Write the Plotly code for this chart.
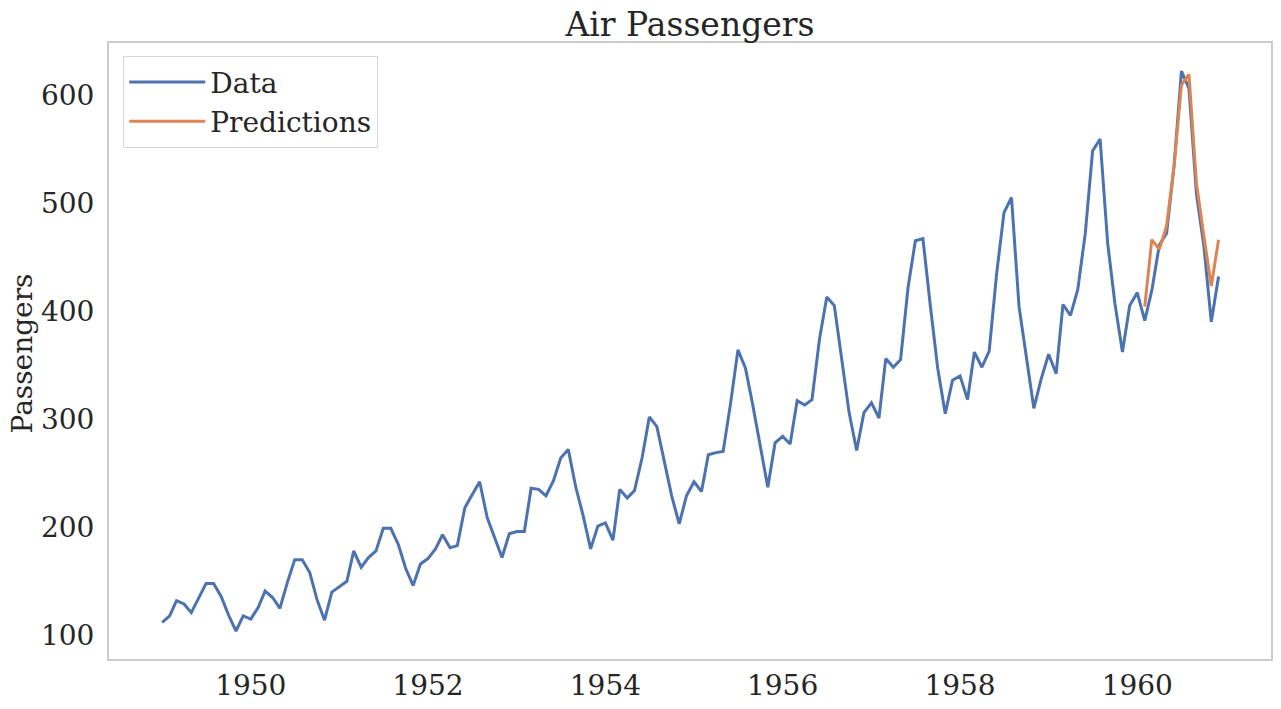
import plotly.graph_objects as go
import pandas as pd

months = pd.date_range("1949-01-01", "1960-12-01", freq="MS").strftime("%Y-%m-%d").tolist()
passengers = [
    112, 118, 132, 129, 121, 135, 148, 148, 136, 119, 104, 118,
    115, 126, 141, 135, 125, 149, 170, 170, 158, 133, 114, 140,
    145, 150, 178, 163, 172, 178, 199, 199, 184, 162, 146, 166,
    171, 180, 193, 181, 183, 218, 230, 242, 209, 191, 172, 194,
    196, 196, 236, 235, 229, 243, 264, 272, 237, 211, 180, 201,
    204, 188, 235, 227, 234, 264, 302, 293, 259, 229, 203, 229,
    242, 233, 267, 269, 270, 315, 364, 347, 312, 274, 237, 278,
    284, 277, 317, 313, 318, 374, 413, 405, 355, 306, 271, 306,
    315, 301, 356, 348, 355, 422, 465, 467, 404, 347, 305, 336,
    340, 318, 362, 348, 363, 435, 491, 505, 404, 359, 310, 337,
    360, 342, 406, 396, 420, 472, 548, 559, 463, 407, 362, 405,
    417, 391, 419, 461, 472, 535, 622, 606, 508, 461, 390, 432,
]
pred_months = pd.date_range("1960-02-01", "1960-12-01", freq="MS").strftime("%Y-%m-%d").tolist()
predictions = [404, 466, 457, 479, 535, 609, 619, 518, 470, 423, 466]

tick_vals = ["1950-01-01", "1952-01-01", "1954-01-01", "1956-01-01", "1958-01-01", "1960-01-01"]
tick_text = ["1950", "1952", "1954", "1956", "1958", "1960"]
y_ticks = [100, 200, 300, 400, 500, 600]

FONT = "DejaVu Serif"
TXT = "#262626"
fig = go.Figure()
fig.add_trace(go.Scatter(x=months, y=passengers, mode="lines", name="Data",
                         line=dict(color="#4C72B0", width=3)))
fig.add_trace(go.Scatter(x=pred_months, y=predictions, mode="lines", name="Predictions",
                         line=dict(color="#DD8452", width=3)))

fig.update_layout(
    width=1281, height=709,
    paper_bgcolor="white", plot_bgcolor="white",
    margin=dict(l=109, r=10, t=43, b=50),
    font=dict(family=FONT, color=TXT, size=28),
    title=dict(text="Air Passengers", x=0.5, xref="paper", xanchor="center",
               y=0.966, yanchor="middle", font=dict(size=33, family=FONT, color=TXT)),
    legend=dict(x=0.012, y=0.979, xanchor="left", yanchor="top",
                bgcolor="white", bordercolor="#d6d6d6", borderwidth=1.3,
                font=dict(size=28, family=FONT, color=TXT),
                tracegroupgap=2, itemwidth=76),
    xaxis=dict(type="date", range=["1948-05-27", "1961-07-05"], automargin=False,
               tickvals=tick_vals, ticktext=tick_text, showgrid=False, zeroline=False,
               showline=True, mirror=True, linecolor="#cccccc", linewidth=2,
               ticks="", ticklabelstandoff=0,
               tickfont=dict(size=28, family=FONT, color=TXT)),
    yaxis=dict(range=[78.1, 647.9], tickvals=y_ticks, showgrid=False, zeroline=False,
               automargin=False,
               showline=True, mirror=True, linecolor="#cccccc", linewidth=2,
               ticks="", ticklabelstandoff=7,
               tickfont=dict(size=28, family=FONT, color=TXT)),
    annotations=[dict(text="Passengers", xref="paper", yref="paper", x=-0.0749, y=0.496,
                      xanchor="center", yanchor="middle", textangle=-90, showarrow=False,
                      font=dict(size=28, family=FONT, color=TXT))],
)

fig.write_html("out.html", config={"displayModeBar": False},
               post_script="document.body.style.margin='0';document.body.style.overflow='hidden';")
